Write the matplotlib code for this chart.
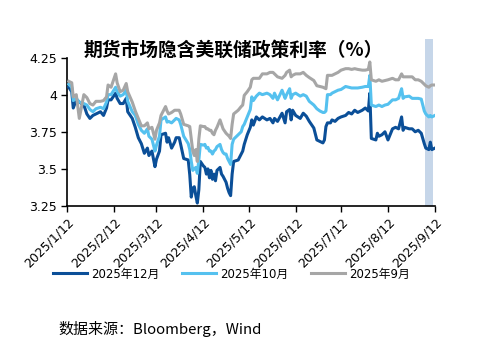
import matplotlib
matplotlib.use("Agg")
import matplotlib.pyplot as plt
import pandas as pd

plt.rcParams['font.family'] = ['DejaVu Sans', 'Noto Sans CJK SC']

# data
dates = [
    "2025-01-13", "2025-01-15", "2025-01-16", "2025-01-18", "2025-01-20", "2025-01-23",
    "2025-01-25", "2025-01-27", "2025-01-29", "2025-01-31", "2025-02-03", "2025-02-05",
    "2025-02-07", "2025-02-08", "2025-02-10", "2025-02-13", "2025-02-14", "2025-02-16",
    "2025-02-18", "2025-02-20", "2025-02-21", "2025-02-24", "2025-02-26", "2025-02-28",
    "2025-03-02", "2025-03-04", "2025-03-06", "2025-03-07", "2025-03-09", "2025-03-11",
    "2025-03-12", "2025-03-14", "2025-03-15", "2025-03-18", "2025-03-19", "2025-03-20",
    "2025-03-22", "2025-03-24", "2025-03-25", "2025-03-27", "2025-03-28", "2025-03-30",
    "2025-04-02", "2025-04-03", "2025-04-04", "2025-04-05", "2025-04-06", "2025-04-07",
    "2025-04-08", "2025-04-09", "2025-04-10", "2025-04-12", "2025-04-13", "2025-04-14",
    "2025-04-15", "2025-04-16", "2025-04-17", "2025-04-18", "2025-04-19", "2025-04-20",
    "2025-04-21", "2025-04-23", "2025-04-24", "2025-04-25", "2025-04-26", "2025-04-27",
    "2025-04-28", "2025-04-29", "2025-04-30", "2025-05-01", "2025-05-02", "2025-05-05",
    "2025-05-07", "2025-05-08", "2025-05-09", "2025-05-11", "2025-05-13", "2025-05-14",
    "2025-05-15", "2025-05-17", "2025-05-19", "2025-05-21", "2025-05-24", "2025-05-26",
    "2025-05-28", "2025-05-29", "2025-05-31", "2025-06-03", "2025-06-05", "2025-06-06",
    "2025-06-08", "2025-06-09", "2025-06-10", "2025-06-12", "2025-06-15", "2025-06-17",
    "2025-06-19", "2025-06-21", "2025-06-24", "2025-06-26", "2025-06-28", "2025-06-30",
    "2025-07-01", "2025-07-02", "2025-07-03", "2025-07-05", "2025-07-06", "2025-07-08",
    "2025-07-10", "2025-07-12", "2025-07-15", "2025-07-17", "2025-07-19", "2025-07-21",
    "2025-07-23", "2025-07-26", "2025-07-28", "2025-07-30", "2025-07-31", "2025-08-01",
    "2025-08-04", "2025-08-05", "2025-08-06", "2025-08-08", "2025-08-10", "2025-08-12",
    "2025-08-15", "2025-08-17", "2025-08-19", "2025-08-21", "2025-08-22", "2025-08-23",
    "2025-08-26", "2025-08-28", "2025-08-30", "2025-09-01", "2025-09-03", "2025-09-05",
    "2025-09-06", "2025-09-08", "2025-09-09", "2025-09-10", "2025-09-12",
]

dec25 = [
    4.05, 4.02, 3.91, 3.965, 3.95, 3.93, 3.87, 3.84, 3.86, 3.87, 3.885, 3.86,
    3.91, 3.965, 3.965, 4.01, 3.975, 3.94, 3.94, 3.975, 3.885, 3.84, 3.78, 3.71,
    3.67, 3.605, 3.64, 3.59, 3.62, 3.515, 3.565, 3.62, 3.73, 3.74, 3.68, 3.71,
    3.64, 3.68, 3.71, 3.71, 3.665, 3.57, 3.56, 3.46, 3.31, 3.37, 3.38, 3.32,
    3.27, 3.36, 3.55, 3.52, 3.51, 3.465, 3.50, 3.44, 3.49, 3.43, 3.465, 3.42,
    3.49, 3.51, 3.465, 3.45, 3.43, 3.41, 3.37, 3.34, 3.32, 3.465, 3.55, 3.56,
    3.60, 3.62, 3.665, 3.73, 3.78, 3.83, 3.795, 3.85, 3.83, 3.85, 3.83, 3.84,
    3.81, 3.84, 3.82, 3.875, 3.81, 3.885, 3.90, 3.83, 3.895, 3.86, 3.84, 3.875,
    3.855, 3.82, 3.775, 3.695, 3.685, 3.675, 3.695, 3.785, 3.81, 3.81, 3.83, 3.82,
    3.84, 3.85, 3.86, 3.88, 3.87, 3.895, 3.88, 3.895, 3.91, 3.89, 4.01, 3.705,
    3.695, 3.74, 3.72, 3.73, 3.75, 3.695, 3.77, 3.78, 3.77, 3.85, 3.76, 3.78,
    3.77, 3.77, 3.75, 3.76, 3.74, 3.67, 3.64, 3.63, 3.68, 3.63, 3.64,
]

oct25 = [
    4.07, 4.05, 3.96, 3.975, 3.95, 3.94, 3.93, 3.90, 3.885, 3.905, 3.915, 3.905,
    3.95, 4.00, 4.00, 4.05, 4.02, 3.99, 4.00, 4.03, 3.955, 3.885, 3.86, 3.80,
    3.76, 3.74, 3.77, 3.72, 3.70, 3.62, 3.66, 3.72, 3.83, 3.85, 3.815, 3.82,
    3.81, 3.83, 3.84, 3.83, 3.80, 3.72, 3.67, 3.63, 3.55, 3.49, 3.50, 3.51,
    3.47, 3.56, 3.665, 3.66, 3.665, 3.64, 3.645, 3.62, 3.62, 3.60, 3.62, 3.63,
    3.65, 3.665, 3.63, 3.61, 3.60, 3.60, 3.57, 3.55, 3.53, 3.665, 3.70, 3.73,
    3.75, 3.785, 3.80, 3.85, 3.90, 3.985, 3.96, 3.99, 4.01, 4.00, 4.01, 4.00,
    3.975, 4.01, 3.965, 4.03, 3.975, 4.00, 4.04, 3.975, 4.00, 4.01, 3.99, 4.00,
    3.99, 3.955, 3.93, 3.905, 3.89, 3.88, 3.88, 3.89, 4.00, 4.00, 4.01, 4.02,
    4.03, 4.035, 4.055, 4.05, 4.045, 4.045, 4.045, 4.05, 4.055, 4.055, 4.13, 3.93,
    3.92, 3.925, 3.93, 3.92, 3.93, 3.935, 3.965, 3.965, 3.975, 4.04, 3.975, 3.985,
    3.99, 3.975, 3.975, 3.975, 3.97, 3.89, 3.87, 3.85, 3.86, 3.85, 3.86,
]

sep25 = [
    4.09, 4.08, 3.985, 4.00, 3.84, 4.00, 3.98, 3.94, 3.93, 3.955, 3.955, 3.96,
    3.985, 4.065, 4.05, 4.14, 4.08, 4.02, 4.03, 4.075, 4.02, 3.95, 3.89, 3.84,
    3.79, 3.79, 3.81, 3.77, 3.78, 3.70, 3.76, 3.81, 3.86, 3.92, 3.89, 3.87,
    3.88, 3.895, 3.895, 3.895, 3.87, 3.80, 3.79, 3.785, 3.70, 3.62, 3.59, 3.63,
    3.55, 3.70, 3.79, 3.785, 3.785, 3.77, 3.77, 3.76, 3.76, 3.74, 3.73, 3.76,
    3.78, 3.83, 3.80, 3.77, 3.755, 3.74, 3.73, 3.72, 3.705, 3.80, 3.87, 3.895,
    3.92, 3.93, 3.995, 4.02, 4.05, 4.10, 4.11, 4.11, 4.11, 4.14, 4.14, 4.15,
    4.15, 4.14, 4.12, 4.11, 4.13, 4.15, 4.165, 4.12, 4.13, 4.14, 4.14, 4.15,
    4.13, 4.115, 4.095, 4.06, 4.055, 4.05, 4.045, 4.04, 4.13, 4.13, 4.13, 4.14,
    4.15, 4.165, 4.175, 4.175, 4.17, 4.175, 4.17, 4.165, 4.165, 4.17, 4.22, 4.10,
    4.09, 4.095, 4.10, 4.09, 4.095, 4.10, 4.11, 4.10, 4.10, 4.14, 4.12, 4.12,
    4.12, 4.12, 4.10, 4.10, 4.09, 4.07, 4.06, 4.05, 4.06, 4.065, 4.065,
]

series_names = ["2025年12月", "2025年10月", "2025年9月"]
series_colors = ["#0b4f98", "#55c1ef", "#a6a6a6"]
x_ticks = ["2025-01-12", "2025-02-12", "2025-03-12", "2025-04-12", "2025-05-12",
           "2025-06-12", "2025-07-12", "2025-08-12", "2025-09-12"]
y_ticks = [3.25, 3.5, 3.75, 4, 4.25]
y_labels = ["3.25", "3.5", "3.75", "4", "4.25"]
shade = ("2025-09-05 14:00", "2025-09-10 17:00")

x = pd.to_datetime(dates)

fig = plt.figure(figsize=(4.8, 3.54), dpi=100)
ax = fig.add_axes([0.140, 0.418, 0.766, 0.4195])

ax.axvspan(pd.Timestamp(shade[0]), pd.Timestamp(shade[1]), ymin=0, ymax=1.125,
           color="#c6d6e9", lw=0, zorder=0, clip_on=False)

for vals, name, col in zip([dec25, oct25, sep25], series_names, series_colors):
    ax.plot(x, vals, color=col, lw=2.2, label=name, zorder=3)

ax.set_xlim(pd.Timestamp(x_ticks[0]), pd.Timestamp(x_ticks[-1]))
ax.set_ylim(3.25, 4.25)
ax.set_yticks(y_ticks)
ax.set_yticklabels(y_labels, fontsize=9)
ax.set_xticks(pd.to_datetime(x_ticks))
ax.set_xticklabels([f"2025/{i}/12" for i in range(1, 10)], fontsize=9,
                   rotation=45, ha="right", rotation_mode="anchor")
ax.tick_params(axis="both", direction="out", length=4, width=1, color="black")
ax.tick_params(axis="x", pad=3)
for side in ["top", "right"]:
    ax.spines[side].set_visible(False)
for side in ["left", "bottom"]:
    ax.spines[side].set_linewidth(1.2)

fig.text(0.485, 0.858, "期货市场隐含美联储政策利率（%）", ha="center", va="center",
         fontsize=13.5, fontweight="bold", family=["Noto Sans CJK SC", "DejaVu Sans"])

handles, labels = ax.get_legend_handles_labels()
fig.legend(handles, labels, loc="center", bbox_to_anchor=(0.482, 0.226), ncol=3,
           frameon=False, handlelength=2.9, handletextpad=0.35, columnspacing=1.9,
           prop={"family": ["DejaVu Sans", "Noto Sans CJK SC"], "size": 8.5})

fig.text(0.121, 0.07, "数据来源：Bloomberg，Wind", ha="left", va="center",
         fontsize=10.8, family=["Noto Sans CJK SC", "DejaVu Sans"])

fig.savefig("out.png", dpi=100)
